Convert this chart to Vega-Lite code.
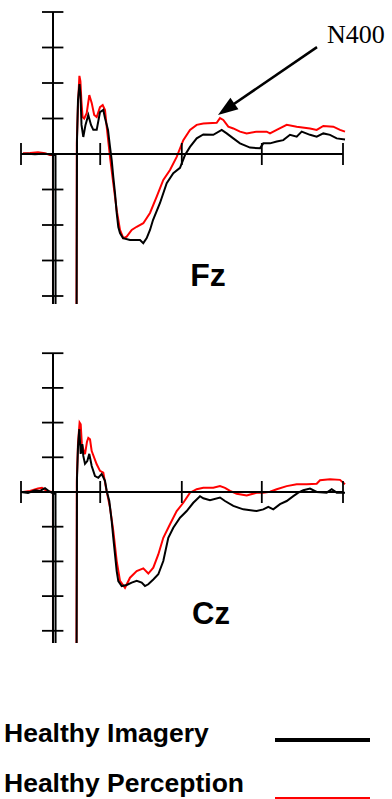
{
  "$schema": "https://vega.github.io/schema/vega-lite/v6.json",
  "padding": 0,
  "spacing": 36,
  "background": "white",
  "config": {"view": {"stroke": null}},
  "datasets": {
    "fz_img": [{"t":-80,"v":0},{"t":-62.5,"v":0.01},{"t":-45,"v":-0.01},{"t":-27.5,"v":0.01},{"t":-12.5,"v":0},{"t":2.5,"v":-0.03},{"t":6.25,"v":-0.03},{"t":6.5,"v":-6},{"t":58.75,"v":-6},{"t":60,"v":0.39},{"t":62.5,"v":1.52},{"t":66.25,"v":1.97},{"t":68.75,"v":1.66},{"t":71.25,"v":0.82},{"t":75.75,"v":0.48},{"t":81.25,"v":0.82},{"t":88.25,"v":1.1},{"t":95,"v":0.82},{"t":100.75,"v":0.68},{"t":109.25,"v":0.68},{"t":117.5,"v":1.18},{"t":125.75,"v":1.24},{"t":130,"v":1.01},{"t":137.5,"v":0.68},{"t":142.5,"v":0.2},{"t":146.75,"v":-0.17},{"t":150.75,"v":-0.65},{"t":155,"v":-1.1},{"t":159.25,"v":-1.66},{"t":163.25,"v":-2.06},{"t":167.5,"v":-2.23},{"t":175,"v":-2.37},{"t":192.5,"v":-2.42},{"t":217.5,"v":-2.42},{"t":225.75,"v":-2.51},{"t":234.25,"v":-2.37},{"t":242.5,"v":-2.14},{"t":250,"v":-1.86},{"t":267.5,"v":-1.38},{"t":284.25,"v":-0.82},{"t":300.75,"v":-0.54},{"t":317.5,"v":-0.39},{"t":330,"v":-0.03},{"t":342.5,"v":0.2},{"t":359.25,"v":0.44},{"t":375.75,"v":0.55},{"t":400.75,"v":0.54},{"t":421.75,"v":0.68},{"t":434.25,"v":0.58},{"t":450.75,"v":0.44},{"t":467.5,"v":0.3},{"t":492.5,"v":0.18},{"t":517.5,"v":0.16},{"t":525.75,"v":0.3},{"t":542.5,"v":0.3},{"t":559.25,"v":0.35},{"t":575.75,"v":0.39},{"t":592.5,"v":0.54},{"t":609.25,"v":0.49},{"t":621.75,"v":0.63},{"t":642.5,"v":0.54},{"t":659.25,"v":0.49},{"t":675.75,"v":0.58},{"t":692.5,"v":0.54},{"t":709.25,"v":0.44},{"t":730,"v":0.41}],
    "fz_per": [{"t":-75,"v":0.02},{"t":-57.5,"v":0.03},{"t":-37.5,"v":0.05},{"t":-20,"v":0.02},{"t":-7.5,"v":-0.03},{"t":-0.2,"v":-0.03},{"t":0,"v":-6},{"t":58.5,"v":-6},{"t":59.5,"v":0.3},{"t":62.5,"v":1.4},{"t":66,"v":2.2},{"t":68.5,"v":2.05},{"t":71,"v":1.5},{"t":74,"v":1.04},{"t":78,"v":1.0},{"t":84.25,"v":1.15},{"t":90.75,"v":1.66},{"t":96.75,"v":1.44},{"t":103,"v":1.1},{"t":109.25,"v":1.04},{"t":117.5,"v":1.32},{"t":124.25,"v":1.38},{"t":130,"v":1.24},{"t":134.25,"v":0.77},{"t":142.5,"v":-0.08},{"t":150.75,"v":-0.83},{"t":159.25,"v":-1.58},{"t":167.5,"v":-2.14},{"t":175.75,"v":-2.37},{"t":184.25,"v":-2.33},{"t":196.75,"v":-2.14},{"t":209.25,"v":-2.05},{"t":225.75,"v":-1.95},{"t":242.5,"v":-1.66},{"t":259.25,"v":-1.2},{"t":275.75,"v":-0.73},{"t":292.5,"v":-0.45},{"t":309.25,"v":-0.08},{"t":325.75,"v":0.39},{"t":342.5,"v":0.68},{"t":359.25,"v":0.82},{"t":375.75,"v":0.86},{"t":409.25,"v":0.88},{"t":417.5,"v":1.01},{"t":425.75,"v":0.96},{"t":438.25,"v":0.77},{"t":450.75,"v":0.72},{"t":467.5,"v":0.63},{"t":484.25,"v":0.58},{"t":509.25,"v":0.63},{"t":534.25,"v":0.63},{"t":542.5,"v":0.58},{"t":559.25,"v":0.68},{"t":584.25,"v":0.82},{"t":609.25,"v":0.77},{"t":642.5,"v":0.72},{"t":659.25,"v":0.68},{"t":675.75,"v":0.79},{"t":700.75,"v":0.77},{"t":717.5,"v":0.68},{"t":730,"v":0.63}],
    "cz_img": [{"t":-80,"v":0},{"t":-62.5,"v":-0.03},{"t":-45,"v":0.05},{"t":-32.5,"v":0.03},{"t":-20,"v":0.11},{"t":-7.5,"v":0},{"t":2.5,"v":-0.05},{"t":6.25,"v":-0.05},{"t":6.5,"v":-6},{"t":58.75,"v":-6},{"t":60,"v":0.4},{"t":62.5,"v":1.3},{"t":65.75,"v":1.81},{"t":69.25,"v":1.1},{"t":73.25,"v":1.38},{"t":75.75,"v":1.04},{"t":80,"v":0.81},{"t":85.75,"v":0.89},{"t":90.75,"v":1.1},{"t":96.75,"v":0.75},{"t":105,"v":0.46},{"t":113.25,"v":0.41},{"t":121.75,"v":0.52},{"t":130,"v":0.32},{"t":134.25,"v":0.03},{"t":140.75,"v":-0.26},{"t":146.75,"v":-0.84},{"t":150.75,"v":-1.32},{"t":155,"v":-1.8},{"t":159.25,"v":-2.28},{"t":163.25,"v":-2.57},{"t":171.75,"v":-2.71},{"t":184.25,"v":-2.68},{"t":196.75,"v":-2.61},{"t":209.25,"v":-2.56},{"t":221.75,"v":-2.61},{"t":230,"v":-2.71},{"t":238.25,"v":-2.66},{"t":250.75,"v":-2.52},{"t":263.25,"v":-2.37},{"t":275.75,"v":-1.99},{"t":288.25,"v":-1.32},{"t":300.75,"v":-1.03},{"t":317.5,"v":-0.74},{"t":334.25,"v":-0.55},{"t":350.75,"v":-0.31},{"t":367.5,"v":-0.12},{"t":375.75,"v":-0.18},{"t":392.5,"v":-0.24},{"t":417.5,"v":-0.16},{"t":430,"v":-0.26},{"t":450.75,"v":-0.4},{"t":475.75,"v":-0.5},{"t":509.25,"v":-0.55},{"t":525.75,"v":-0.5},{"t":538.25,"v":-0.43},{"t":550.75,"v":-0.5},{"t":567.5,"v":-0.35},{"t":584.25,"v":-0.26},{"t":600.75,"v":-0.12},{"t":613.25,"v":-0.02},{"t":625.75,"v":0.05},{"t":642.5,"v":0.1},{"t":659.25,"v":0},{"t":684.25,"v":-0.02},{"t":696.75,"v":0.08},{"t":709.25,"v":-0.02},{"t":730,"v":-0.02}],
    "cz_per": [{"t":-75,"v":0},{"t":-57.5,"v":0.03},{"t":-37.5,"v":0.1},{"t":-27.5,"v":0.12},{"t":-15,"v":0.03},{"t":-2.5,"v":0},{"t":-0.2,"v":-0.03},{"t":0,"v":-6},{"t":58.5,"v":-6},{"t":59.5,"v":0.3},{"t":62.5,"v":1.4},{"t":66.5,"v":2.0},{"t":69.25,"v":1.95},{"t":72,"v":1.4},{"t":75.75,"v":1.23},{"t":80,"v":1.09},{"t":85,"v":1.45},{"t":88.25,"v":1.56},{"t":92.5,"v":1.52},{"t":96.75,"v":1.18},{"t":109.25,"v":0.8},{"t":117.5,"v":0.61},{"t":125.75,"v":0.56},{"t":132.5,"v":0.12},{"t":142.5,"v":-0.45},{"t":150.75,"v":-1.12},{"t":159.25,"v":-1.99},{"t":167.5,"v":-2.56},{"t":180,"v":-2.76},{"t":192.5,"v":-2.47},{"t":209.25,"v":-2.28},{"t":225.75,"v":-2.2},{"t":238.25,"v":-2.35},{"t":250.75,"v":-2.18},{"t":263.25,"v":-1.8},{"t":275.75,"v":-1.32},{"t":292.5,"v":-0.93},{"t":309.25,"v":-0.55},{"t":325.75,"v":-0.31},{"t":342.5,"v":-0.02},{"t":359.25,"v":0.08},{"t":375.75,"v":0.12},{"t":400.75,"v":0.12},{"t":417.5,"v":0.17},{"t":430,"v":0.12},{"t":442.5,"v":0.03},{"t":459.25,"v":-0.05},{"t":484.25,"v":-0.1},{"t":509.25,"v":-0.02},{"t":525.75,"v":-0.02},{"t":542.5,"v":0.01},{"t":559.25,"v":0.08},{"t":584.25,"v":0.17},{"t":609.25,"v":0.22},{"t":634.25,"v":0.22},{"t":659.25,"v":0.24},{"t":667.5,"v":0.34},{"t":692.5,"v":0.37},{"t":717.5,"v":0.35},{"t":730,"v":0.22}],
    "one": [{}],
    "yticks": [{"v":-4},{"v":-3},{"v":-2},{"v":-1},{"v":1},{"v":2},{"v":3},{"v":4}],
    "xticks": [{"t":-80},{"t":118},{"t":322},{"t":522},{"t":725}],
    "legend": [{"label":"Healthy Imagery","row":1},{"label":"Healthy Perception","row":2}]
  },
  "vconcat": [
    {
      "width": 392,
      "height": 304,
      "layer": [
        {"data": {"name": "fz_per"}, "mark": {"type": "line", "clip": true, "color": "#ff0000", "strokeWidth": 2},
         "encoding": {"x": {"field": "t", "type": "quantitative", "scale": {"domain": [-132.5, 847.5], "nice": false, "zero": false}, "axis": null},
                      "y": {"field": "v", "type": "quantitative", "scale": {"domain": [-4.2254, 4.338], "nice": false, "zero": false}, "axis": null}}},
        {"data": {"name": "fz_img"}, "mark": {"type": "line", "clip": true, "color": "#000000", "strokeWidth": 2},
         "encoding": {"x": {"field": "t", "type": "quantitative"}, "y": {"field": "v", "type": "quantitative"}}},
        {"data": {"name": "one"}, "mark": {"type": "rule", "color": "#000000", "strokeWidth": 1.8},
         "encoding": {"x": {"datum": -80}, "x2": {"datum": 725}, "y": {"datum": 0}}},
        {"data": {"name": "one"}, "mark": {"type": "rule", "color": "#000000", "strokeWidth": 2},
         "encoding": {"x": {"datum": 0}, "y": {"datum": 4}, "y2": {"datum": -4.2254}}},
        {"data": {"name": "yticks"}, "mark": {"type": "rule", "color": "#000000", "strokeWidth": 1.8},
         "encoding": {"x": {"datum": -27.5}, "x2": {"datum": 26}, "y": {"field": "v", "type": "quantitative"}}},
        {"data": {"name": "xticks"}, "mark": {"type": "rule", "color": "#000000", "strokeWidth": 1.8},
         "encoding": {"x": {"field": "t", "type": "quantitative"}, "y": {"datum": 0.31}, "y2": {"datum": -0.31}}},
        {"data": {"name": "one"}, "mark": {"type": "text", "text": "Fz", "font": "Liberation Sans", "fontWeight": "bold", "fontSize": 32, "align": "center", "baseline": "middle", "color": "#000000"},
         "encoding": {"x": {"datum": 387.5}, "y": {"datum": -3.44}}},
        {"data": {"name": "one"}, "mark": {"type": "text", "text": "N400", "font": "Liberation Serif", "fontSize": 26, "align": "left", "baseline": "alphabetic", "color": "#000000"},
         "encoding": {"x": {"datum": 685}, "y": {"datum": 3.13}}},
        {"data": {"name": "one"}, "mark": {"type": "rule", "color": "#000000", "strokeWidth": 2.5},
         "encoding": {"x": {"datum": 660}, "y": {"datum": 3.01}, "x2": {"datum": 433}, "y2": {"datum": 1.26}}},
        {"data": {"name": "one"}, "mark": {"type": "point", "shape": "M0,-1L-0.7,1L0.7,1Z", "filled": true, "color": "#000000", "opacity": 1, "size": 400, "angle": 235},
         "encoding": {"x": {"datum": 433}, "y": {"datum": 1.26}}}
      ]
    },
    {
      "width": 392,
      "height": 302,
      "layer": [
        {"data": {"name": "cz_per"}, "mark": {"type": "line", "clip": true, "color": "#ff0000", "strokeWidth": 2},
         "encoding": {"x": {"field": "t", "type": "quantitative", "scale": {"domain": [-132.5, 847.5], "nice": false, "zero": false}, "axis": null},
                      "y": {"field": "v", "type": "quantitative", "scale": {"domain": [-4.3516, 4.3516], "nice": false, "zero": false}, "axis": null}}},
        {"data": {"name": "cz_img"}, "mark": {"type": "line", "clip": true, "color": "#000000", "strokeWidth": 2},
         "encoding": {"x": {"field": "t", "type": "quantitative"}, "y": {"field": "v", "type": "quantitative"}}},
        {"data": {"name": "one"}, "mark": {"type": "rule", "color": "#000000", "strokeWidth": 1.8},
         "encoding": {"x": {"datum": -80}, "x2": {"datum": 725}, "y": {"datum": 0}}},
        {"data": {"name": "one"}, "mark": {"type": "rule", "color": "#000000", "strokeWidth": 2},
         "encoding": {"x": {"datum": 0}, "y": {"datum": 4}, "y2": {"datum": -4.3516}}},
        {"data": {"name": "yticks"}, "mark": {"type": "rule", "color": "#000000", "strokeWidth": 1.8},
         "encoding": {"x": {"datum": -27.5}, "x2": {"datum": 26}, "y": {"field": "v", "type": "quantitative"}}},
        {"data": {"name": "xticks"}, "mark": {"type": "rule", "color": "#000000", "strokeWidth": 1.8},
         "encoding": {"x": {"field": "t", "type": "quantitative"}, "y": {"datum": 0.317}, "y2": {"datum": -0.317}}},
        {"data": {"name": "one"}, "mark": {"type": "text", "text": "Cz", "font": "Liberation Sans", "fontWeight": "bold", "fontSize": 31, "align": "center", "baseline": "middle", "color": "#000000"},
         "encoding": {"x": {"datum": 395}, "y": {"datum": -3.54}}}
      ]
    },
    {
      "width": 392,
      "height": 121,
      "data": {"name": "legend"},
      "layer": [
        {"mark": {"type": "text", "font": "Liberation Sans", "fontWeight": "bold", "fontSize": 26.5, "align": "left", "baseline": "alphabetic", "color": "#000000"},
         "encoding": {"x": {"datum": -122.5, "scale": {"domain": [-132.5, 847.5], "nice": false, "zero": false}, "axis": null},
                      "y": {"field": "row", "type": "quantitative", "scale": {"domain": [-0.24, 2.18], "reverse": true, "nice": false, "zero": false}, "axis": null},
                      "text": {"field": "label", "type": "nominal"}}},
        {"mark": {"type": "rule", "strokeWidth": 4},
         "encoding": {"x": {"datum": 555}, "x2": {"datum": 792.5},
                      "y": {"field": "row", "type": "quantitative", "scale": {"domain": [-0.017, 2.034], "reverse": true, "nice": false, "zero": false}, "axis": null},
                      "color": {"field": "label", "type": "nominal", "scale": {"domain": ["Healthy Imagery", "Healthy Perception"], "range": ["#000000", "#ff0000"]}, "legend": null}}}
      ],
      "resolve": {"scale": {"y": "independent"}}
    }
  ]
}
